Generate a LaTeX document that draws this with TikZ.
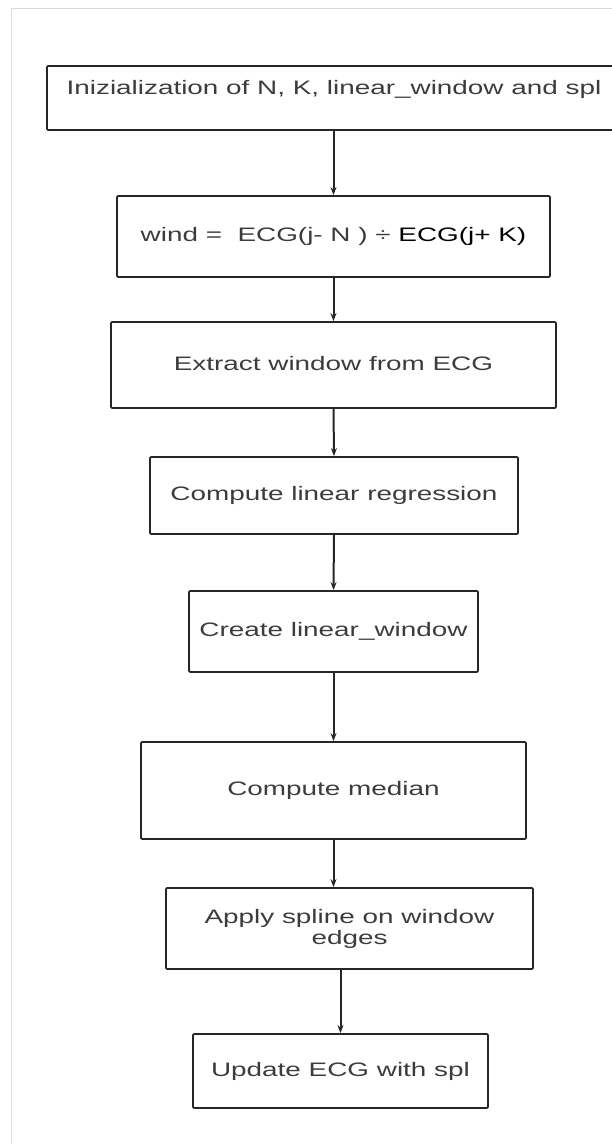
\documentclass[tikz,border=0pt]{standalone}
\usepackage{fontspec}
\setmainfont[FakeStretch=1.43]{Liberation Sans}
\usepackage{tikz}
\usetikzlibrary{arrows.meta}
\definecolor{txtgray}{HTML}{3C3C3C}
\definecolor{framegray}{HTML}{DADADA}

\begin{document}
\begin{tikzpicture}[x=1pt, y=-1pt,
		stepbox/.style={draw=black!85, line width=1.8pt, rounded corners=1.2pt, inner sep=0pt, text=txtgray, font=\fontsize{19.5}{21}\selectfont, text height=14pt, text depth=4pt, align=center},
		arr/.style={-{Stealth[length=8pt, width=6pt]}, line width=2pt, draw=black!85}]
			\useasboundingbox (0,0) rectangle (612,1144);
			\draw[framegray, line width=1pt] (11,1150) -- (11,8) -- (620,8);
			
			\node[stepbox, minimum width=574pt, minimum height=64pt, text depth=22pt] (init) at (334,98) {Inizialization of N, K, linear\_window and spl};
			\node[stepbox, minimum width=433pt, minimum height=81pt] (wind) at (333.5,236.5) {wind =\ \ ECG(j- N ) ÷ \textcolor{black}{ECG(j+ K)}};
			\node[stepbox, minimum width=445pt, minimum height=86pt] (extr) at (333.5,365) {Extract window from ECG};
			\node[stepbox, minimum width=368pt, minimum height=77pt] (linreg) at (334,495.5) {Compute linear regression};
			\node[stepbox, minimum width=289pt, minimum height=81pt] (linwin) at (333.5,631.5) {Create linear\_window};
			\node[stepbox, minimum width=385pt, minimum height=97pt] (med) at (333.5,790.5) {Compute median};
			\node[stepbox, minimum width=367pt, minimum height=81pt, text height=, text depth=] (spl) at (349.5,928.5) {Apply spline on window\\edges};
			\node[stepbox, minimum width=295pt, minimum height=74pt] (upd) at (340.5,1071) {Update ECG with spl};
			
			\draw[arr] (wind.north |- init.south) to (wind.north);
			\draw[arr] (wind.south) to (extr.north);
			\draw[arr] (extr.south) to (linreg.north);
			\draw[arr] (linreg.south) to (linwin.north);
			\draw[arr] (linwin.south) to (med.north);
			\draw[arr] (med.south) to (med.south |- spl.north);
			\draw[arr] (upd.north |- spl.south) to (upd.north);
		\end{tikzpicture}
\end{document}
